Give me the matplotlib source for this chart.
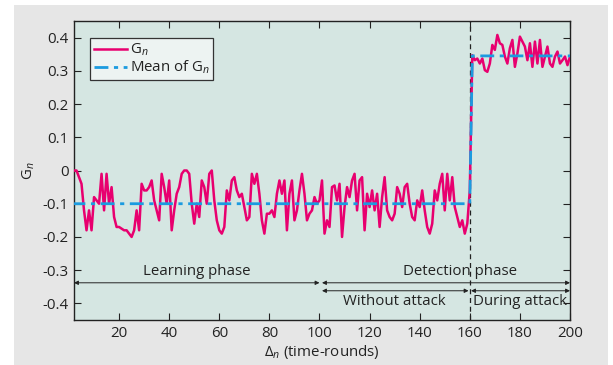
import numpy as np
import matplotlib
matplotlib.use("Agg")
import matplotlib.pyplot as plt
from matplotlib.patches import Rectangle

plt.rcParams["font.family"] = ["Open Sans", "DejaVu Sans"]
plt.rcParams["mathtext.fontset"] = "custom"
plt.rcParams["mathtext.rm"] = "Open Sans"
plt.rcParams["mathtext.it"] = "Open Sans:italic"

# --- data ---
rounds = np.arange(1, 201)
g_learning = [
    -0.01, 0.00, -0.00, -0.02, -0.04, -0.12, -0.18, -0.12, -0.18, -0.08,
    -0.09, -0.10, -0.01, -0.12, -0.01, -0.10, -0.05, -0.14, -0.17, -0.17,
    -0.175, -0.18, -0.18, -0.19, -0.20, -0.18, -0.12, -0.18, -0.04, -0.06,
    -0.06, -0.05, -0.03, -0.09, -0.12, -0.15, -0.01, -0.05, -0.10, -0.03,
    -0.18, -0.12, -0.07, -0.05, -0.01, 0.00, 0.00, -0.01, -0.10, -0.16,
    -0.10, -0.14, -0.03, -0.05, -0.10, -0.01, 0.00, -0.09, -0.15, -0.18,
    -0.19, -0.17, -0.06, -0.09, -0.03, -0.02, -0.06, -0.08, -0.07, -0.11,
    -0.15, -0.14, -0.01, -0.04, -0.01, -0.07, -0.15, -0.19, -0.13, -0.13,
    -0.12, -0.14, -0.07, -0.03, -0.07, -0.03, -0.18, -0.07, -0.03, -0.15,
    -0.12, -0.06, -0.01, -0.07, -0.15, -0.13, -0.12, -0.08, -0.10, -0.09,
]
g_no_attack = [
    -0.03, -0.19, -0.15, -0.17, -0.05, -0.045, -0.09, -0.04, -0.20, -0.11,
    -0.05, -0.08, -0.03, -0.01, -0.12, -0.03, -0.02, -0.18, -0.07, -0.11,
    -0.06, -0.12, -0.07, -0.17, -0.08, -0.02, -0.12, -0.14, -0.15, -0.13,
    -0.05, -0.07, -0.11, -0.05, -0.04, -0.10, -0.14, -0.15, -0.09, -0.11,
    -0.06, -0.12, -0.17, -0.19, -0.16, -0.06, -0.09, -0.04, -0.01, -0.12,
    -0.01, -0.09, -0.02, -0.11, -0.14, -0.17, -0.15, -0.19, -0.16, -0.06,
]
g_attack = [
    0.347, 0.332, 0.337, 0.322, 0.337, 0.302, 0.297, 0.322, 0.378, 0.363,
    0.408, 0.383, 0.378, 0.343, 0.322, 0.368, 0.393, 0.312, 0.352, 0.403,
    0.388, 0.373, 0.332, 0.383, 0.312, 0.388, 0.322, 0.393, 0.312, 0.343,
    0.373, 0.322, 0.312, 0.343, 0.358, 0.322, 0.332, 0.343, 0.317, 0.343,
]
g_n = np.array(g_learning + g_no_attack + g_attack)

mean_x = [1, 160, 161, 200]
mean_y = [-0.10, -0.10, 0.345, 0.345]

attack_start = 160
xticks = [20, 40, 60, 80, 100, 120, 140, 160, 180, 200]
yticks = [-0.4, -0.3, -0.2, -0.1, 0.0, 0.1, 0.2, 0.3, 0.4]
ytick_labels = ["-0.4", "-0.3", "-0.2", "-0.1", "0", "0.1", "0.2", "0.3", "0.4"]

red = "#e8006f"
blue = "#1b9be0"
txt = "#222222"
fs = 10.8

fig = plt.figure(figsize=(6.13, 3.65), dpi=100, facecolor="white")
bg = Rectangle((14 / 613, 0), 594 / 613, 360 / 365, transform=fig.transFigure,
               facecolor="#e6e6e6", edgecolor="none", zorder=-5)
fig.add_artist(bg)
ax = fig.add_axes([74 / 613, 45 / 365, 496 / 613, 299 / 365])
ax.set_facecolor("#d5e6e2")

ax.plot(rounds, g_n, color=red, lw=1.8, label=r"G$_{\mathit{n}}$", zorder=3)
ax.plot(mean_x, mean_y, color=blue, lw=2.0, ls=(0, (5, 2, 1.5, 2)),
        label=r"Mean of G$_{\mathit{n}}$", zorder=4)
ax.axvline(attack_start, color="#222222", lw=0.9, ls=(0, (4, 3)), zorder=2)

ax.set_xlim(2, 200)
ax.set_ylim(-0.45, 0.45)
ax.set_xticks(xticks)
ax.set_yticks(yticks)
ax.set_yticklabels(ytick_labels)
ax.tick_params(direction="in", length=5, width=0.8, top=True, right=True,
               labelsize=fs, colors="#222222", labelcolor=txt, pad=4)
for s in ax.spines.values():
    s.set_color("#222222")
    s.set_linewidth(1.0)

# phase annotations
arr = dict(arrowstyle="<|-|>", color="#222222", lw=0.7,
           mutation_scale=6, shrinkA=0, shrinkB=0)
ax.annotate("", xy=(2, -0.338), xytext=(100, -0.338), arrowprops=arr)
ax.annotate("", xy=(101, -0.338), xytext=(200, -0.338), arrowprops=arr)
ax.annotate("", xy=(101, -0.362), xytext=(159.5, -0.362), arrowprops=arr)
ax.annotate("", xy=(160.5, -0.362), xytext=(200, -0.362), arrowprops=arr)
ax.text(51, -0.303, "Learning phase", ha="center", va="center",
        fontsize=fs, color=txt)
ax.text(156, -0.303, "Detection phase", ha="center", va="center",
        fontsize=fs, color=txt)
ax.text(130, -0.395, "Without attack", ha="center", va="center",
        fontsize=fs, color=txt)
ax.text(180, -0.395, "During attack", ha="center", va="center",
        fontsize=fs, color=txt)

ax.set_xlabel(r"$\Delta_{\mathit{n}}$ (time-rounds)", fontsize=fs,
              color=txt, labelpad=2)
ax.set_ylabel(r"G$_{\mathit{n}}$", fontsize=fs, color=txt, labelpad=4)

leg = ax.legend(loc="upper left", bbox_to_anchor=(0.032, 0.943),
                borderaxespad=0, fancybox=False, framealpha=1,
                facecolor="#edf3f2", edgecolor="#333333", fontsize=fs,
                handlelength=2.2, handletextpad=0.2, labelspacing=0.05,
                borderpad=0.25)
leg.get_frame().set_linewidth(0.9)
for t in leg.get_texts():
    t.set_color(txt)

fig.savefig("out.png", dpi=100, facecolor=fig.get_facecolor())
